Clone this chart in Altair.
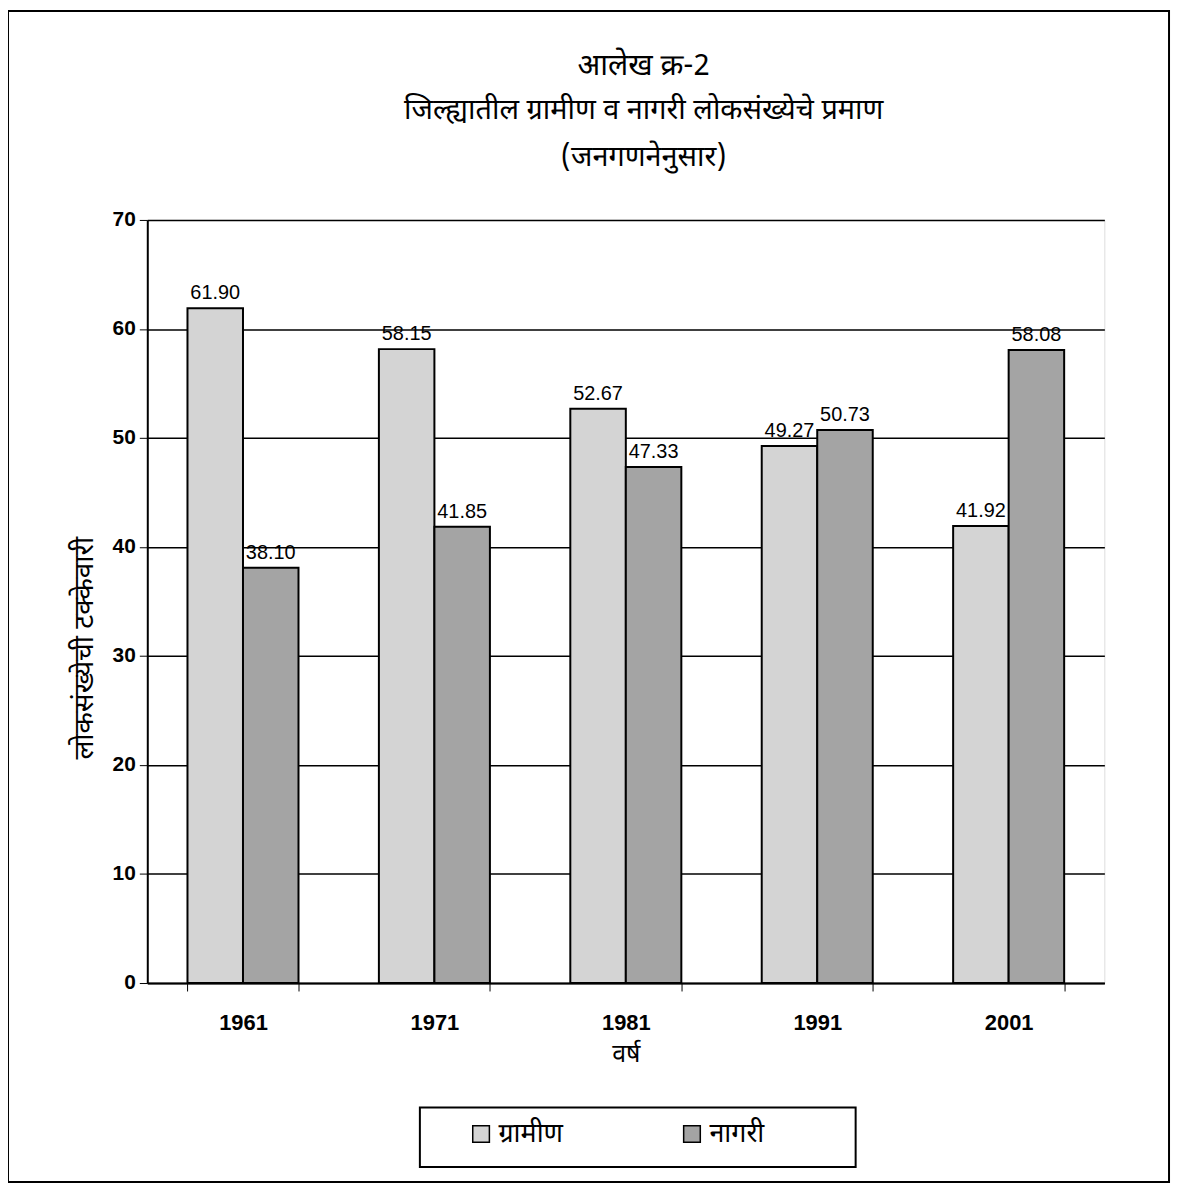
import altair as alt
import pandas as pd

years = ["1961", "1971", "1981", "1991", "2001"]
rural = [61.90, 58.15, 52.67, 49.27, 41.92]
urban = [38.10, 41.85, 47.33, 50.73, 58.08]
series = ["ग्रामीण", "नागरी"]
title_lines = ["आलेख क्र-2", "जिल्ह्यातील ग्रामीण व नागरी लोकसंख्येचे प्रमाण", "(जनगणनेनुसार)"]
y_title = "लोकसंख्येची टक्केवारी"
x_title = "वर्ष"

rows = []
for i, y in enumerate(years):
    rows.append({"year": y, "series": series[0], "value": rural[i]})
    rows.append({"year": y, "series": series[1], "value": urban[i]})
df = pd.DataFrame(rows)

FONT = "Noto Sans Devanagari, Noto Sans, Lohit Devanagari, sans-serif"
W, H = 962, 767

x = alt.X("year:N", sort=years, title=x_title,
          scale=alt.Scale(paddingInner=0.42, paddingOuter=0.21),
          axis=alt.Axis(labelAngle=0, labelFontSize=22, labelFontWeight="bold",
                        labelFont="Liberation Sans", labelColor="black",
                        titleFontSize=25, titleFont=FONT, titleFontWeight="normal",
                        titlePadding=8, labelPadding=22, tickBand="extent",
                        tickColor="black", tickSize=8, domainColor="black",
                        domainWidth=2, grid=False))
y = alt.Y("value:Q", title=y_title,
          scale=alt.Scale(domain=[0, 70]),
          axis=alt.Axis(values=list(range(0, 71, 10)), labelFontSize=21,
                        labelFontWeight="bold", labelFont="Liberation Sans",
                        labelColor="black", titleFontSize=28, titleFont=FONT,
                        titleFontWeight="normal", titlePadding=14, labelPadding=4,
                        titleY=430,
                        tickColor="black", tickSize=8, domainColor="black",
                        domainWidth=2, gridColor="black", gridWidth=1.5,
                        gridOpacity=1))

color = alt.Color("series:N", sort=series,
                  scale=alt.Scale(domain=series, range=["#d4d4d4", "#a4a4a4"]),
                  legend=alt.Legend(title=None, orient="none", legendX=322, legendY=905,
                                    direction="horizontal", symbolType="square",
                                    symbolSize=280, symbolStrokeColor="black",
                                    symbolStrokeWidth=1.5, labelFontSize=27,
                                    labelFont=FONT, columnPadding=116,
                                    padding=0, labelLimit=300))

bars = alt.Chart(df).mark_bar(stroke="black", strokeWidth=2).encode(
    x=x, y=y, color=color,
    xOffset=alt.XOffset("series:N", sort=series),
)

labels = alt.Chart(df).mark_text(dy=-15, fontSize=20, font="Liberation Sans",
                                 color="black").encode(
    x=alt.X("year:N", sort=years),
    xOffset=alt.XOffset("series:N", sort=series),
    y="value:Q",
    text=alt.Text("value:Q", format=".2f"),
)

one = pd.DataFrame({"k": [0]})
border = alt.Chart(one).mark_rect(
    fill=None, stroke="black", strokeWidth=2, clip=False).encode(
    x=alt.value(-140), x2=alt.value(W + 65),
    y=alt.value(-210), y2=alt.value(H + 200),
)
legend_box = alt.Chart(one).mark_rect(
    fill=None, stroke="black", strokeWidth=2, clip=False).encode(
    x=alt.value(274), x2=alt.value(712),
    y=alt.value(892), y2=alt.value(952),
)

title_y = [-155, -110, -63]
title_size = [30, 29, 29]
titles = []
for i, t in enumerate(title_lines):
    titles.append(alt.Chart(pd.DataFrame({"t": [t]})).mark_text(
        fontSize=title_size[i], font=FONT, color="black", baseline="middle",
        align="center").encode(
        x=alt.value(W / 2 + 18), y=alt.value(title_y[i]), text="t:N"))

chart = alt.layer(border, legend_box, bars, labels, *titles).properties(
    width=W, height=H,
    padding={"left": 140, "top": 210, "right": 70, "bottom": 205},
    autosize=alt.AutoSizeParams(type="none"),
).configure_view(stroke="black", strokeWidth=2).configure(background="white")

chart.save("out.html", embed_options={"renderer": "svg", "actions": False})
